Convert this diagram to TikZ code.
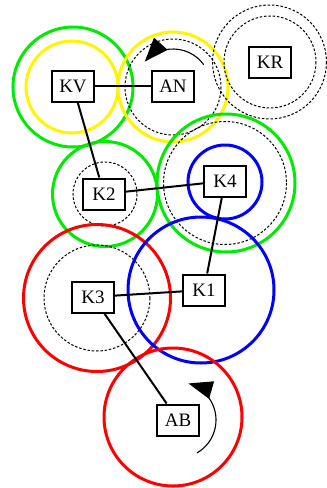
\documentclass[tikz,border=0pt]{standalone}
\usepackage{fontspec}
\setmainfont{Liberation Serif}
\usetikzlibrary{arrows.meta}
\definecolor{cgreen}{RGB}{0,235,0}
\definecolor{cyellow}{RGB}{255,245,0}
\definecolor{cred}{RGB}{255,0,0}
\definecolor{cblue}{RGB}{0,0,255}
\tikzset{
  box/.style={draw, line width=2pt, fill=white, minimum width=42pt, minimum height=31pt, inner sep=0pt, font=\fontsize{19}{22}\selectfont},
  ring/.style={line width=3pt},
  dring/.style={dashed, dash pattern=on 2.5pt off 1.8pt, line width=1pt},
  edge/.style={line width=2pt},
  rot/.style={line width=1.1pt, -{Triangle[length=24pt,width=18pt]}}
}
\begin{document}
\begin{tikzpicture}[x=1pt,y=-1pt]
\useasboundingbox (0,0) rectangle (327,488);
% circles
\draw[ring, cgreen] (73,87) circle (60);
\draw[ring, cyellow] (72,87) circle (46);
\draw[ring, cyellow] (173,87) circle (55);
\draw[dring] (173,87) circle (48);
\draw[dring] (269.5,62) circle (57);
\draw[dring] (270,62) circle (46);
\draw[ring, cgreen] (105,194) circle (52.5);
\draw[dring] (105,194) circle (32);
\draw[ring, cgreen] (226,183) circle (69);
\draw[dring] (225,183) circle (61.5);
\draw[ring, cblue] (225,182) circle (37);
\draw[ring, cred] (97,298) circle (73.5);
\draw[dring] (97,298) circle (53);
\draw[ring, cblue] (201,290) circle (73);
\draw[ring, cred] (173,417) circle (69);
% rotation arrows
\draw[rot] ([shift={(-36:38)}]173,87) arc[start angle=-36, end angle=-138, radius=38];
\draw[rot] ([shift={(60:38)}]178,420) arc[start angle=60, end angle=-74, radius=38];
% nodes
\node[box] (KV) at (73,86) {KV};
\node[box] (AN) at (173,86) {AN};
\node[box] (KR) at (270,62) {KR};
\node[box] (K2) at (104,194) {K2};
\node[box] (K4) at (225,181) {K4};
\node[box] (K3) at (93,297) {K3};
\node[box] (K1) at (204,290) {K1};
\node[box] (AB) at (178,420) {AB};
% edges
\draw[edge] (KV) -- (AN);
\draw[edge] (KV) -- (K2);
\draw[edge] (K2) -- (K4);
\draw[edge] (K4) -- (K1);
\draw[edge] (K3) -- (K1);
\draw[edge] (K3) -- (AB);
\end{tikzpicture}
\end{document}
